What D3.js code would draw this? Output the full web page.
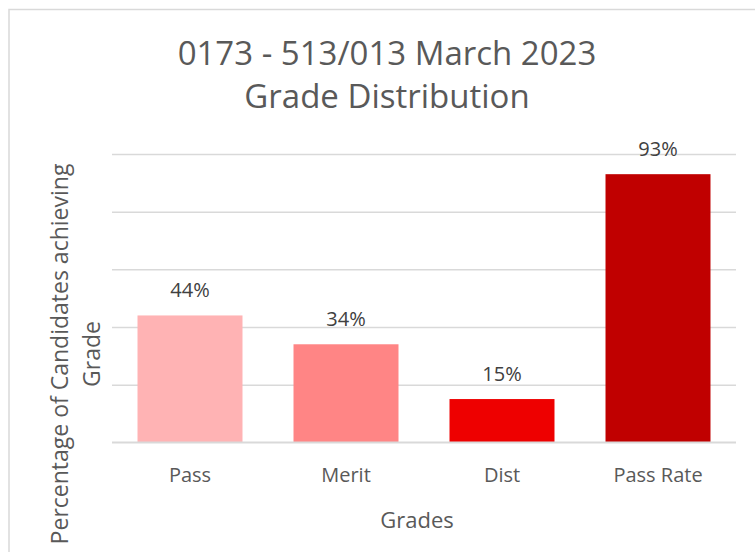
<!DOCTYPE html>
<html>
<head>
<meta charset="utf-8">
<script src="https://cdn.jsdelivr.net/npm/d3@7"></script>
<style>
  body { margin: 0; background: #fff; }
  text { font-family: "Open Sans", sans-serif; }
</style>
</head>
<body>
<div id="chart"></div>
<script>
// DATA
const grades = ["Pass", "Merit", "Dist", "Pass Rate"];
const percents = [0.44, 0.34, 0.15, 0.93];
const barColors = ["#FFB3B4", "#FF8585", "#EE0000", "#C00000"];
const gridTicks = [0, 0.2, 0.4, 0.6, 0.8, 1.0];
const titleLines = ["0173 - 513/013 March 2023", "Grade Distribution"];
const yTitleLines = ["Percentage of Candidates achieving", "Grade"];

const width = 755, height = 552;
const plot = {left: 112, right: 736, top: 154, bottom: 442.3};

const svg = d3.select("#chart")
    .append("svg")
    .attr("width", width)
    .attr("height", height);

// chart border (runs off the right / bottom of the picture)
svg.append("rect")
    .attr("x", 9).attr("y", 9.5)
    .attr("width", 800).attr("height", 600)
    .attr("fill", "none")
    .attr("stroke", "#D9D9D9")
    .attr("stroke-width", 1.5);

// SCALES
const xScale = d3.scaleBand()
    .domain(grades)
    .range([plot.left, plot.right])
    .paddingInner(0.327)
    .paddingOuter(0.1635);

const yScale = d3.scaleLinear()
    .domain([0, 1])
    .range([plot.bottom, plot.top]);

// GRIDLINES
const grid = svg.append("g")
    .attr("transform", `translate(${plot.left},0)`)
    .call(d3.axisLeft(yScale)
        .tickValues(gridTicks)
        .tickSize(-(plot.right - plot.left))
        .tickFormat(""));
grid.select(".domain").remove();
grid.selectAll("line")
    .attr("stroke", "#D9D9D9")
    .attr("stroke-width", 1.5);

// BARS
svg.selectAll("rect.bar")
    .data(percents)
    .join("rect")
    .attr("class", "bar")
    .attr("x", (d, i) => xScale(grades[i]))
    .attr("y", d => yScale(d))
    .attr("width", xScale.bandwidth())
    .attr("height", d => yScale(0) - yScale(d))
    .attr("fill", (d, i) => barColors[i]);

// baseline over the bars
svg.append("line")
    .attr("x1", plot.left).attr("x2", plot.right)
    .attr("y1", yScale(0)).attr("y2", yScale(0))
    .attr("stroke", "#D9D9D9")
    .attr("stroke-width", 1.5);

// DATA LABELS
svg.selectAll("text.lbl")
    .data(percents)
    .join("text")
    .attr("class", "lbl")
    .attr("x", (d, i) => xScale(grades[i]) + xScale.bandwidth() / 2)
    .attr("y", d => yScale(d) - 18.5)
    .attr("text-anchor", "middle")
    .style("font-size", "20px")
    .style("fill", "#404040")
    .text(d => d3.format(".0%")(d));

// X AXIS
const xAxisGroup = svg.append("g")
    .attr("transform", `translate(0, ${plot.bottom})`)
    .call(d3.axisBottom(xScale).tickSize(0));
xAxisGroup.select(".domain").remove();
xAxisGroup.selectAll("text")
    .attr("y", 39.5)
    .attr("dy", null)
    .style("font-size", "20px")
    .style("font-family", "'Open Sans', sans-serif")
    .style("fill", "#595959");

// axis titles
svg.append("text")
    .attr("x", 417)
    .attr("y", 528)
    .attr("text-anchor", "middle")
    .style("font-size", "22px")
    .style("fill", "#595959")
    .text("Grades");

svg.append("text")
    .attr("transform", "translate(68,354) rotate(-90)")
    .attr("text-anchor", "middle")
    .style("font-size", "23px")
    .style("fill", "#595959")
    .selectAll("tspan")
    .data(yTitleLines)
    .join("tspan")
    .attr("x", 0)
    .attr("y", (d, i) => i * 32)
    .text(d => d);

// TITLE
svg.append("text")
    .attr("text-anchor", "middle")
    .style("font-size", "33px")
    .style("fill", "#595959")
    .selectAll("tspan")
    .data(titleLines)
    .join("tspan")
    .attr("x", 387)
    .attr("y", (d, i) => 65 + i * 43)
    .text(d => d);
</script>
</body>
</html>
